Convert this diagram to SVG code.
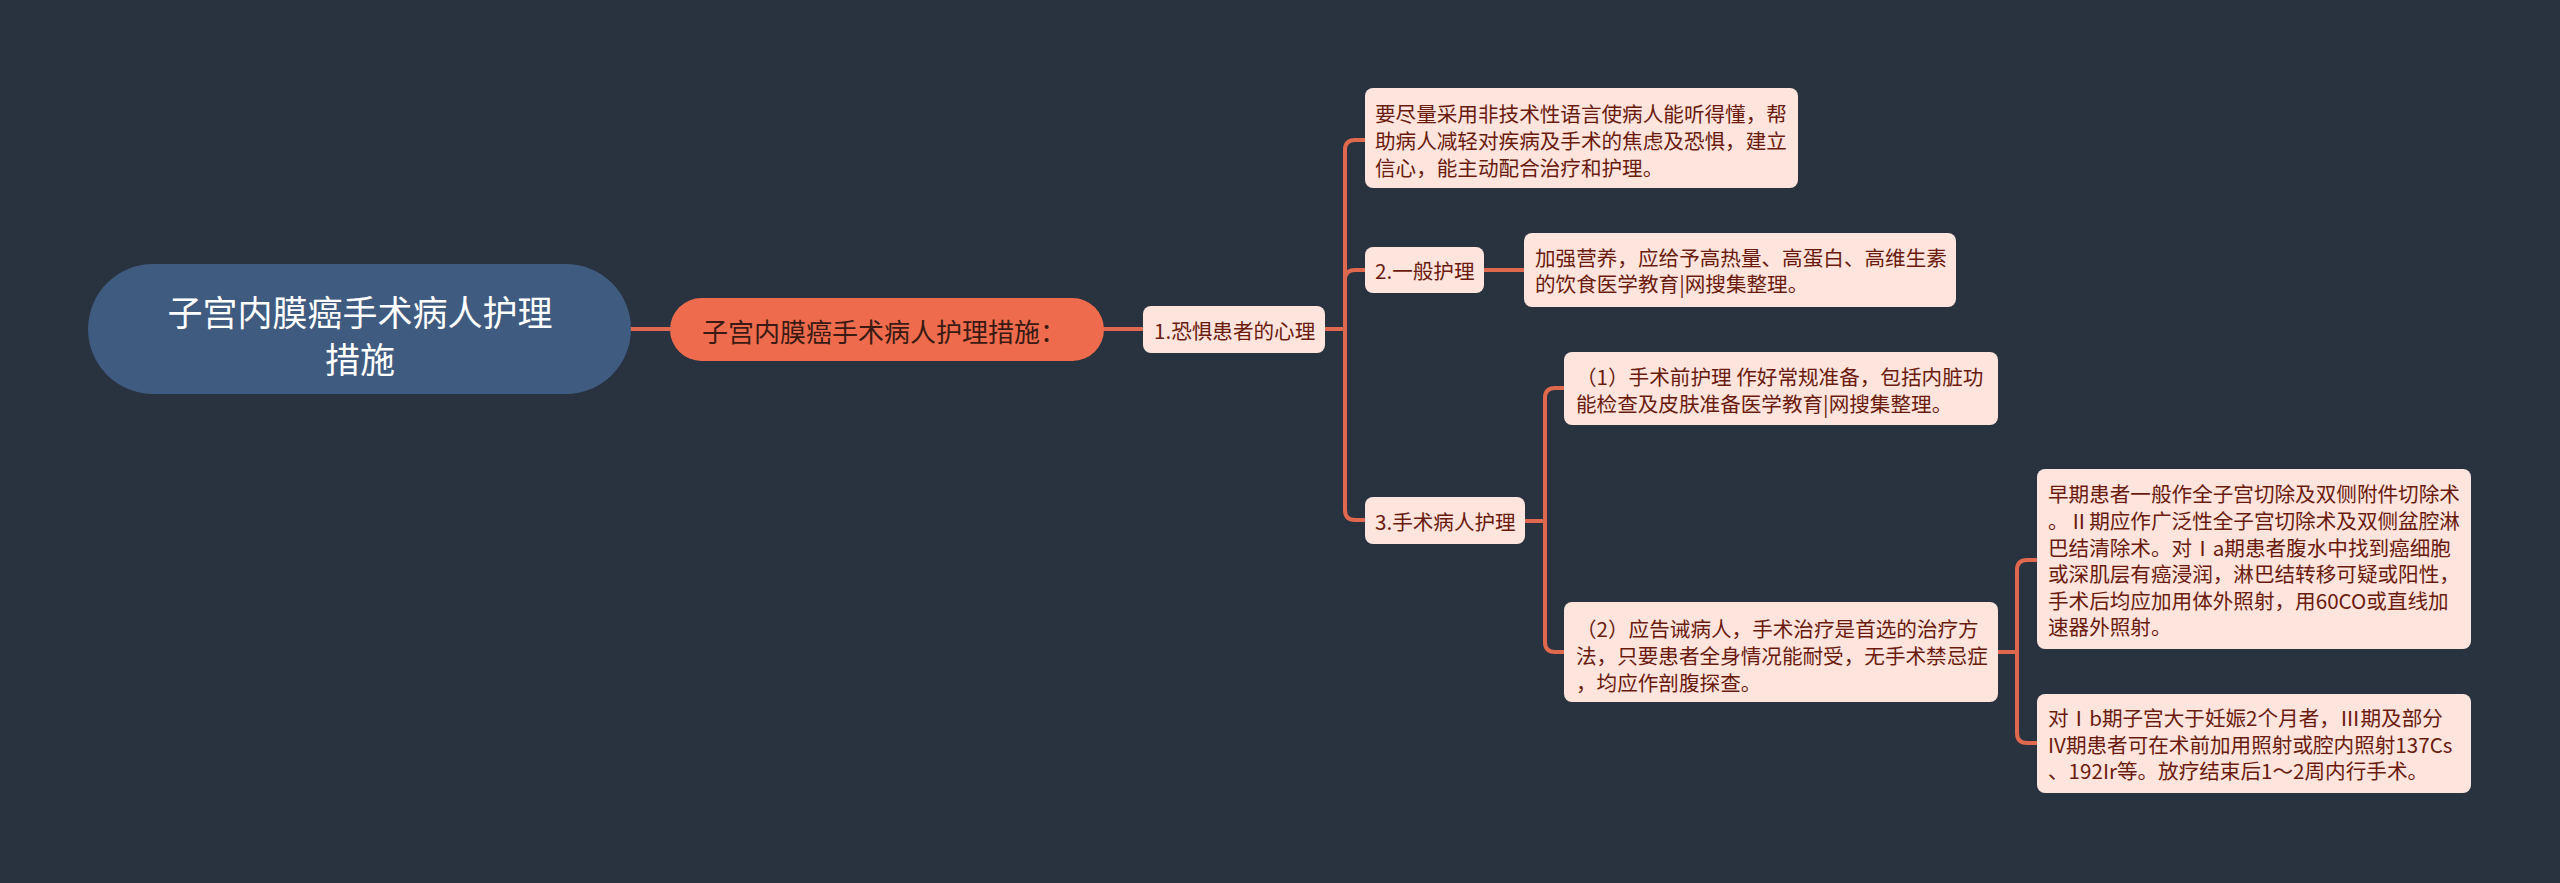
<svg xmlns="http://www.w3.org/2000/svg" width="2560" height="883" viewBox="0 0 2560 883">
<style>
.bg{fill:#29323F}
.root{fill:#3F5B80}
.main{fill:#EE6C4D}
.box{fill:#FDE4DD}
.conn{fill:none;stroke:#E0684E;stroke-width:4;stroke-linecap:round;stroke-linejoin:round}
text{font-family:"Noto Sans CJK SC","Noto Sans",sans-serif;dominant-baseline:central}
.t{font-size:20.6px;fill:#6A1B0E}
.tm{font-size:26px;fill:#3A1A12}
.tr{font-size:35px;fill:#FFFFFF}
</style>
<rect class="bg" x="0" y="0" width="2560" height="883"/>
<g id="connectors">
<path class="conn" d="M631,329 H670"/>
<path class="conn" d="M1104,329 H1143"/>
<path class="conn" d="M1325,329 H1345 V150 Q1345,140 1355,140 H1365"/>
<path class="conn" d="M1325,329 H1345 V280 Q1345,270 1355,270 H1365"/>
<path class="conn" d="M1325,329 H1345 V510 Q1345,520 1355,520 H1365"/>
<path class="conn" d="M1484,270 H1524"/>
<path class="conn" d="M1525,521 H1545 V398 Q1545,388 1555,388 H1564"/>
<path class="conn" d="M1525,521 H1545 V642 Q1545,652 1555,652 H1564"/>
<path class="conn" d="M1998,652 H2017 V570 Q2017,560 2027,560 H2037"/>
<path class="conn" d="M1998,652 H2017 V733 Q2017,743 2027,743 H2037"/>
</g>
<g id="root">
<rect class="root" x="88" y="264" width="543" height="130" rx="65"/>
<text class="tr" x="360" y="310" text-anchor="middle">子宫内膜癌手术病人护理</text>
<text class="tr" x="360" y="357" text-anchor="middle">措施</text>
</g>
<g id="main">
<rect class="main" x="670" y="298" width="434" height="63" rx="31.5"/>
<text class="tm" x="702" y="330">子宫内膜癌手术病人护理措施：</text>
</g>
<g id="n1">
<rect class="box" x="1143" y="306" width="182" height="47" rx="8"/>
<text class="t" x="1154" y="330">1.恐惧患者的心理</text>
</g>
<g id="n1a">
<rect class="box" x="1365" y="88" width="433" height="100" rx="8"/>
<text class="t" x="1375" y="113">要尽量采用非技术性语言使病人能听得懂，帮</text>
<text class="t" x="1375" y="140">助病人减轻对疾病及手术的焦虑及恐惧，建立</text>
<text class="t" x="1375" y="166.5">信心，能主动配合治疗和护理。</text>
</g>
<g id="n2">
<rect class="box" x="1365" y="247" width="119" height="46" rx="8"/>
<text class="t" x="1375" y="270">2.一般护理</text>
</g>
<g id="n2a">
<rect class="box" x="1524" y="233" width="432" height="74" rx="8"/>
<text class="t" x="1535" y="256.7">加强营养，应给予高热量、高蛋白、高维生素</text>
<text class="t" x="1535" y="283.3">的饮食医学教育|网搜集整理。</text>
</g>
<g id="n3">
<rect class="box" x="1365" y="497" width="160" height="47" rx="8"/>
<text class="t" x="1375" y="521">3.手术病人护理</text>
</g>
<g id="n3a">
<rect class="box" x="1564" y="352" width="434" height="73" rx="8"/>
<text class="t" x="1576" y="376">（1）手术前护理 作好常规准备，包括内脏功</text>
<text class="t" x="1576" y="402.6">能检查及皮肤准备医学教育|网搜集整理。</text>
</g>
<g id="n3b">
<rect class="box" x="1564" y="602" width="434" height="100" rx="8"/>
<text class="t" x="1576" y="628">（2）应告诫病人，手术治疗是首选的治疗方</text>
<text class="t" x="1576" y="655">法，只要患者全身情况能耐受，无手术禁忌症</text>
<text class="t" x="1576" y="681.5">，均应作剖腹探查。</text>
</g>
<g id="n3b1">
<rect class="box" x="2037" y="469" width="434" height="180" rx="8"/>
<text class="t" x="2048" y="493">早期患者一般作全子宫切除及双侧附件切除术</text>
<text class="t" x="2048" y="520">。Ⅱ期应作广泛性全子宫切除术及双侧盆腔淋</text>
<text class="t" x="2048" y="546.5">巴结清除术。对Ⅰa期患者腹水中找到癌细胞</text>
<text class="t" x="2048" y="573">或深肌层有癌浸润，淋巴结转移可疑或阳性，</text>
<text class="t" x="2048" y="599.5">手术后均应加用体外照射，用60CO或直线加</text>
<text class="t" x="2048" y="626">速器外照射。</text>
</g>
<g id="n3b2">
<rect class="box" x="2037" y="694" width="434" height="99" rx="8"/>
<text class="t" x="2048" y="717">对Ⅰb期子宫大于妊娠2个月者，Ⅲ期及部分</text>
<text class="t" x="2048" y="744">IV期患者可在术前加用照射或腔内照射137Cs</text>
<text class="t" x="2048" y="770">、192Ir等。放疗结束后1～2周内行手术。</text>
</g>
</svg>
